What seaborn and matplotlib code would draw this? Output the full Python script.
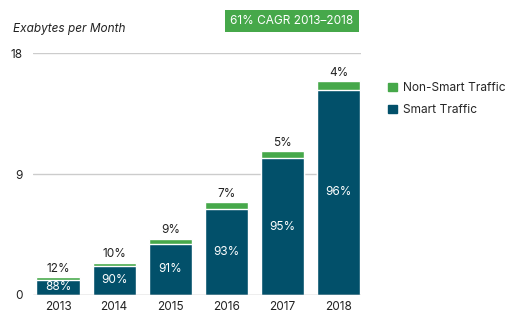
import matplotlib
matplotlib.use("Agg")
import matplotlib.pyplot as plt
import seaborn as sns
import pandas as pd
from matplotlib.patches import Patch

years = ["2013", "2014", "2015", "2016", "2017", "2018"]
totals = [1.3, 2.4, 4.2, 6.9, 10.7, 15.9]
smart_pct = [88, 90, 91, 93, 95, 96]
nonsmart_pct = [12, 10, 9, 7, 5, 4]
yticks = [0, 9, 18]

smart = [t * p / 100 for t, p in zip(totals, smart_pct)]
df = pd.DataFrame({"year": years, "total": totals, "smart": smart})

sns.set_theme(style="white")
plt.rcParams["font.family"] = ["Inter", "DejaVu Sans"]

TEAL = "#02506a"
GREEN = "#46a84a"

fig = plt.figure(figsize=(5.05, 3.22), dpi=100)
ax = fig.add_axes([0.065, 0.084, 0.65, 0.751])

sns.barplot(data=df, x="year", y="total", color=GREEN, width=0.77,
            saturation=1, ax=ax, zorder=3)
sns.barplot(data=df, x="year", y="smart", color=TEAL, width=0.77,
            saturation=1, ax=ax, zorder=4)

ax.set_ylim(0, 18)
ax.set_xlim(-0.45, 5.4)
ax.set_yticks(yticks)
ax.set_yticklabels([str(v) for v in yticks], fontsize=8.5, color="#222222")
ax.tick_params(axis="x", labelsize=8.5, colors="#222222", length=0, pad=4)
ax.tick_params(axis="y", length=0, pad=7)
ax.set_xlabel("")
ax.set_ylabel("")
for s in ax.spines.values():
    s.set_visible(False)
for v in [9, 18]:
    ax.axhline(v, color="#cccccc", lw=1, zorder=1)
ax.axhline(0, color="#aaaaaa", lw=1, zorder=5)

for i, (t, s, sp, nsp) in enumerate(zip(totals, smart, smart_pct, nonsmart_pct)):
    ax.text(i, t + 0.2, f"{nsp}%", ha="center", va="bottom", fontsize=8.5,
            color="#222222", zorder=6)
    ax.text(i, s / 2, f"{sp}%", ha="center", va="center", fontsize=8.5,
            color="white", zorder=6)

fig.text(0.025, 0.91, "Exabytes per Month", fontsize=8.5, style="italic",
         color="#222222", va="center")
fig.text(0.578, 0.935, "61% CAGR 2013\u20132018", fontsize=8.5, color="white",
         ha="center", va="center",
         bbox=dict(boxstyle="square,pad=0.45", fc=GREEN, ec="none"))

handles = [Patch(color=GREEN, label="Non-Smart Traffic"),
           Patch(color=TEAL, label="Smart Traffic")]
fig.legend(handles=handles, loc="upper left", bbox_to_anchor=(0.768, 0.745),
           frameon=False, fontsize=8.6, handlelength=0.75, handleheight=0.75,
           handletextpad=0.5, labelspacing=0.85, borderaxespad=0, borderpad=0)

fig.savefig("out.png", dpi=100)
